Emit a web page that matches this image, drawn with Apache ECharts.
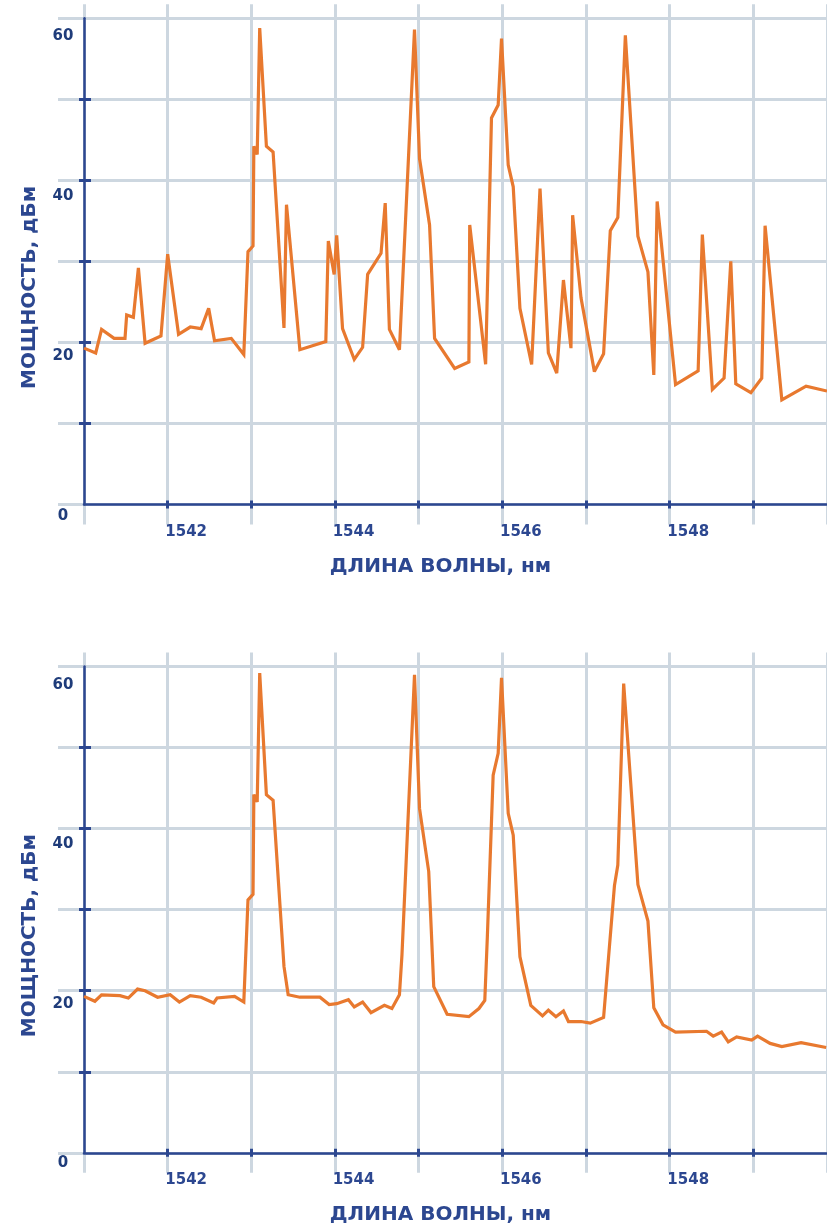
<!DOCTYPE html>
<html>
<head>
<meta charset="utf-8">
<script src="https://cdn.jsdelivr.net/npm/echarts@6/dist/echarts.min.js"></script>
<style>
html,body{margin:0;padding:0;background:#ffffff;}
#c{width:827px;height:1227px;}
</style>
</head>
<body>
<div id="c"></div>
<script>
// ---------- data ----------
const topWavelength = [
  1541.00,1541.14,1541.21,1541.36,1541.49,1541.51,1541.59,1541.65,1541.73,1541.92,
  1542.00,1542.13,1542.27,1542.40,1542.49,1542.56,1542.76,1542.91,1542.96,1543.02,
  1543.03,1543.07,1543.10,1543.18,1543.26,1543.39,1543.42,1543.58,1543.89,1543.92,
  1543.99,1544.02,1544.09,1544.23,1544.33,1544.39,1544.55,1544.60,1544.65,1544.77,
  1544.95,1545.01,1545.13,1545.19,1545.43,1545.60,1545.61,1545.80,1545.87,1545.95,
  1545.99,1546.07,1546.13,1546.21,1546.35,1546.45,1546.55,1546.65,1546.73,1546.82,
  1546.84,1546.94,1547.10,1547.21,1547.29,1547.38,1547.47,1547.62,1547.74,1547.81,
  1547.85,1548.07,1548.34,1548.39,1548.51,1548.65,1548.73,1548.79,1548.97,1549.10,
  1549.14,1549.34,1549.63,1549.88
];
const topPower = [
  19.3,18.7,21.6,20.5,20.5,23.4,23.1,29.2,19.9,20.8,
  30.9,21.0,21.9,21.7,24.2,20.2,20.5,18.5,31.2,31.9,
  44.2,43.2,58.8,44.2,43.5,21.8,37.0,19.1,20.1,32.5,
  28.4,33.2,21.7,17.9,19.4,28.4,31.0,37.2,21.6,19.1,
  58.6,42.7,34.5,20.5,16.8,17.6,34.5,17.3,47.7,49.3,
  57.5,41.9,39.2,24.2,17.3,39.0,18.7,16.2,27.7,19.3,
  35.7,25.5,16.4,18.6,33.8,35.4,57.9,33.1,28.7,16.0,
  37.4,14.8,16.5,33.3,14.2,15.6,30.0,14.9,13.8,15.6,
  34.4,12.9,14.6,14.0
];
const bottomWavelength = [
  1541.00,1541.13,1541.21,1541.43,1541.53,1541.64,1541.73,1541.88,1542.03,1542.14,
  1542.27,1542.40,1542.55,1542.59,1542.80,1542.91,1542.96,1543.02,1543.03,1543.07,
  1543.10,1543.18,1543.26,1543.39,1543.44,1543.58,1543.82,1543.93,1544.02,1544.16,
  1544.23,1544.33,1544.43,1544.59,1544.68,1544.77,1544.80,1544.85,1544.95,1545.01,
  1545.12,1545.18,1545.34,1545.60,1545.72,1545.79,1545.82,1545.89,1545.95,1545.99,
  1546.07,1546.13,1546.21,1546.34,1546.48,1546.55,1546.64,1546.73,1546.79,1546.94,
  1547.05,1547.21,1547.34,1547.38,1547.45,1547.62,1547.74,1547.81,1547.92,1548.07,
  1548.44,1548.52,1548.62,1548.70,1548.80,1548.98,1549.05,1549.20,1549.34,1549.57,
  1549.87
];
const bottomPower = [
  19.3,18.7,19.5,19.4,19.1,20.2,20.0,19.2,19.5,18.6,
  19.4,19.2,18.5,19.1,19.3,18.6,31.2,31.9,44.2,43.3,
  59.2,44.2,43.5,23.0,19.5,19.2,19.2,18.3,18.4,18.9,
  18.0,18.6,17.3,18.2,17.8,19.5,24.4,35.9,59.0,42.5,
  34.7,20.5,17.1,16.8,17.8,18.8,26.5,46.6,49.3,58.6,
  41.9,39.2,24.2,18.2,16.9,17.6,16.8,17.5,16.2,16.2,
  16.0,16.7,33.0,35.5,57.9,33.1,28.6,17.9,15.8,14.9,
  15.0,14.4,14.9,13.7,14.3,13.9,14.4,13.5,13.1,13.6,
  13.0
];
const xLabelValues = [1542, 1544, 1546, 1548];
const xTickValues = [1542, 1543, 1544, 1545, 1546, 1547, 1548, 1549];
const yLabelValues = [0, 20, 40, 60];
const yTickValues = [10, 20, 30, 40, 50];
const xTitle = 'ДЛИНА ВОЛНЫ, нм';
const yTitle = 'МОЩНОСТЬ, дБм';

// ---------- style ----------
const NAVY = '#2c4790';
const NAVY_DARK = '#1f3c7a';
const GRID = '#cdd7e0';
const ORANGE = '#e8792f';
const FONT = 'DejaVu Sans';
const X_MIN = 1541, X_MAX = 1549.88;

const option = { animation: false, backgroundColor: '#ffffff', grid: [], xAxis: [], yAxis: [], series: [] };

function addPanel(o, t, labT, labH, wl, pw) {
  const g = o.grid.length;
  o.grid.push({ left: 84, top: t, width: 743, height: 486.2 });          // main
  o.grid.push({ left: 84, top: labT, width: 743, height: labH });        // y labels
  o.grid.push({ left: 84, top: t - 14, width: 743, height: 486.2 + 34 }); // vertical grid
  o.grid.push({ left: 58, top: t, width: 769, height: 486.2 });          // horizontal grid
  const xb = o.xAxis.length, yb = o.yAxis.length;

  o.xAxis.push({
    type: 'value', gridIndex: g, min: X_MIN, max: X_MAX, interval: 1, position: 'bottom',
    axisLine: { show: true, onZero: false, lineStyle: { color: NAVY, width: 2.5 } },
    axisTick: { show: true, customValues: xTickValues, length: 4, lineStyle: { color: NAVY, width: 3 } },
    axisLabel: { show: true, customValues: xLabelValues, margin: 20, fontFamily: FONT, fontWeight: 'bold',
      fontSize: 15, color: NAVY, align: 'center', padding: [0, 0, 0, 37], formatter: v => String(v) },
    splitLine: { show: false },
    name: xTitle, nameLocation: 'middle', nameGap: 52,
    nameTextStyle: { fontFamily: FONT, fontWeight: 'bold', fontSize: 20, color: NAVY, padding: [0, 30, 0, 0] }
  });
  o.xAxis.push({
    type: 'value', gridIndex: g, min: X_MIN, max: X_MAX, interval: 1, position: 'bottom',
    axisLine: { show: false },
    axisTick: { show: true, inside: true, customValues: xTickValues, length: 4, lineStyle: { color: NAVY, width: 3 } },
    axisLabel: { show: false }, splitLine: { show: false }
  });
  o.xAxis.push({ type: 'value', gridIndex: g + 1, show: false, min: X_MIN, max: X_MAX });
  o.xAxis.push({
    type: 'value', gridIndex: g + 2, min: X_MIN, max: X_MAX, interval: 1,
    axisLine: { show: false }, axisTick: { show: false }, axisLabel: { show: false },
    splitLine: { show: true, lineStyle: { color: GRID, width: 3 } }
  });
  o.xAxis.push({ type: 'value', gridIndex: g + 3, show: false, min: X_MIN, max: X_MAX });

  o.yAxis.push({
    type: 'value', gridIndex: g, min: 0, max: 60, interval: 10, position: 'left',
    axisLine: { show: true, onZero: false, lineStyle: { color: NAVY, width: 2.5 } },
    axisTick: { show: true, customValues: yTickValues, length: 5, lineStyle: { color: NAVY, width: 3 } },
    axisLabel: { show: false }, splitLine: { show: false },
    name: yTitle, nameLocation: 'middle', nameGap: 44, nameRotate: 90,
    nameTextStyle: { fontFamily: FONT, fontWeight: 'bold', fontSize: 20, color: NAVY, padding: [0, 52, 0, 0] }
  });
  o.yAxis.push({
    type: 'value', gridIndex: g, min: 0, max: 60, interval: 10, position: 'left',
    axisLine: { show: false },
    axisTick: { show: true, inside: true, customValues: yTickValues, length: 7, lineStyle: { color: NAVY, width: 3 } },
    axisLabel: { show: false }, splitLine: { show: false }
  });
  o.yAxis.push({
    type: 'value', gridIndex: g + 1, min: 0, max: 60, interval: 20, position: 'left',
    axisLine: { show: false }, axisTick: { show: false }, splitLine: { show: false },
    axisLabel: { show: true, customValues: yLabelValues, margin: 21, align: 'center', fontFamily: FONT,
      fontWeight: 'bold', fontSize: 15, color: NAVY_DARK }
  });
  o.yAxis.push({ type: 'value', gridIndex: g + 2, show: false, min: 0, max: 60 });
  o.yAxis.push({
    type: 'value', gridIndex: g + 3, min: 0, max: 60, interval: 10,
    axisLine: { show: false }, axisTick: { show: false }, axisLabel: { show: false },
    splitLine: { show: true, lineStyle: { color: GRID, width: 3 } }
  });

  o.series.push({
    type: 'line', xAxisIndex: xb, yAxisIndex: yb, showSymbol: false, symbol: 'none', z: 5,
    lineStyle: { color: ORANGE, width: 3.2, join: 'miter', miterLimit: 3 },
    data: wl.map((w, i) => [w, pw[i]])
  });
}

addPanel(option, 18.3, 36, 480, topWavelength, topPower);
addPanel(option, 666.6, 685, 478, bottomWavelength, bottomPower);

const chart = echarts.init(document.getElementById('c'), null, { renderer: 'canvas' });
chart.setOption(option);
</script>
</body>
</html>
